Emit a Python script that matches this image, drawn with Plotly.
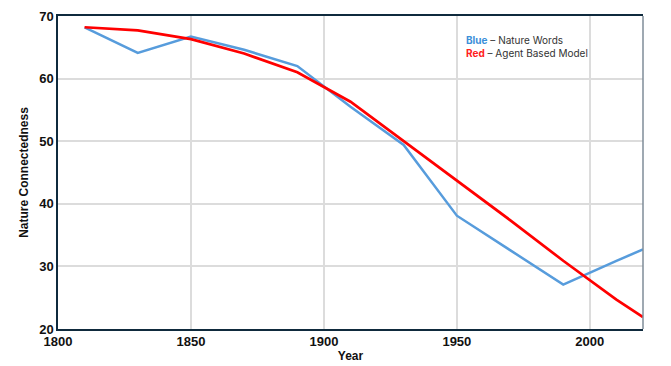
import plotly.graph_objects as go

years = [1810, 1830, 1850, 1870, 1890, 1910, 1930, 1950, 1970, 1990, 2010, 2020]
nature_words = [68.2, 64.1, 66.7, 64.6, 62.0, 55.5, 49.4, 38.1, 32.6, 27.1, 30.9, 32.7]
agent_model = [68.2, 67.7, 66.3, 64.0, 61.0, 56.3, 50.0, 43.7, 37.4, 30.9, 24.7, 21.9]
x_ticks = [1800, 1850, 1900, 1950, 2000]
y_ticks = [20, 30, 40, 50, 60, 70]

navy = "#0f2a3d"
fig = go.Figure()
fig.add_trace(go.Scatter(x=years, y=nature_words, mode="lines",
                         line=dict(color="#579cdc", width=2.5), name="Nature Words"))
fig.add_trace(go.Scatter(x=years, y=agent_model, mode="lines",
                         line=dict(color="#ff0000", width=2.7), name="Agent Based Model"))

tickfont = dict(family="Liberation Sans, Arial, sans-serif", size=13, color="#111111", weight="bold")
titlefont = dict(family="Liberation Sans, Arial, sans-serif", size=12, color="#111111", weight="bold")
fig.update_layout(
    width=663, height=358,
    margin=dict(l=50, r=28, t=8, b=37),
    plot_bgcolor="white", paper_bgcolor="white",
    showlegend=False,
    xaxis=dict(range=[1800, 2020], tickvals=x_ticks, showgrid=True, gridcolor="#dcdcdc", gridwidth=1.5,
               showline=True, linecolor=navy, linewidth=1.5, mirror=True, zeroline=False,
               ticks="", tickfont=tickfont, automargin=False,
               title=dict(text="Year", font=titlefont, standoff=2)),
    yaxis=dict(range=[20, 70], tickvals=y_ticks, showgrid=True, gridcolor="#dcdcdc", gridwidth=1.5,
               showline=True, linecolor=navy, linewidth=1.5, zeroline=False,
               ticks="", tickfont=tickfont, automargin=False,
               title=dict(text="Nature Connectedness", font=titlefont, standoff=8)),
)
fig.add_shape(type="line", xref="paper", yref="paper", x0=1, x1=1, y0=0, y1=1,
              line=dict(color="#7f8c99", width=1.5))
fig.add_annotation(xref="paper", yref="paper", x=0.694, y=0.904, xanchor="left", yanchor="middle",
                   showarrow=False, align="left",
                   text="<b><span style='color:#3b8fd9'>Blue</span></b> – Nature Words<br><b><span style='color:#ff2020'>Red</span></b> – Agent Based Model",
                   font=dict(family="Inter, Noto Sans, sans-serif", size=10, color="#333333"))
fig.write_html("out.html")
